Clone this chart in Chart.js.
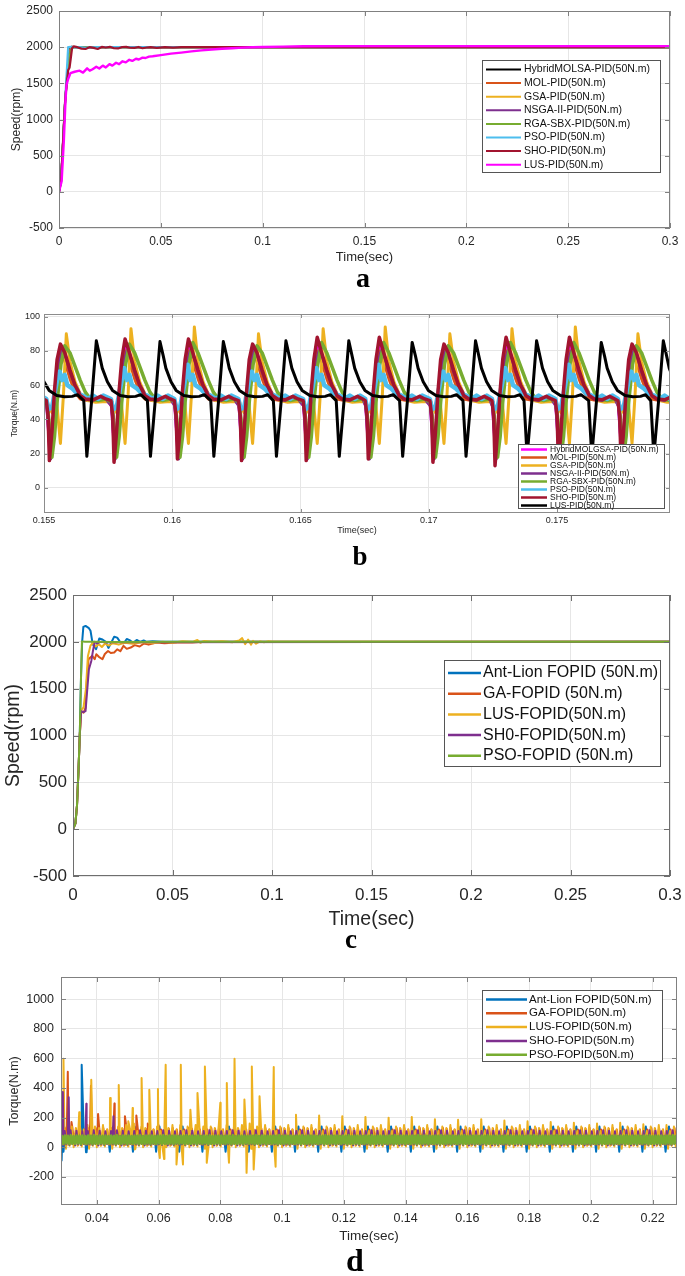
<!DOCTYPE html>
<html><head><meta charset="utf-8">
<script src="https://cdn.jsdelivr.net/npm/chart.js@4.4.0/dist/chart.umd.min.js"></script>
<style>
html,body{margin:0;padding:0;background:#fff;}
body{width:685px;height:1276px;position:relative;overflow:hidden;}
canvas{position:absolute;left:0;}
.lbl{position:absolute;font-family:"Liberation Serif","Times New Roman",serif;font-weight:bold;line-height:1;transform:translateX(-50%);color:#000;}
</style></head><body>
<canvas id="cA" width="685" height="268" style="top:0px"></canvas>
<canvas id="cB" width="685" height="240" style="top:300px"></canvas>
<canvas id="cC" width="685" height="355" style="top:580px"></canvas>
<canvas id="cD" width="685" height="290" style="top:960px"></canvas>
<div class="lbl" style="left:363px;top:264px;font-size:28px">a</div>
<div class="lbl" style="left:360px;top:543px;font-size:27px">b</div>
<div class="lbl" style="left:351px;top:926px;font-size:27px">c</div>
<div class="lbl" style="left:355px;top:1244px;font-size:32px">d</div>
<script>
// ---------------- Panel a : Speed (PID) ----------------
const aTicksX = [0, 0.05, 0.1, 0.15, 0.2, 0.25, 0.3];
const aLabelsX = ['0', '0.05', '0.1', '0.15', '0.2', '0.25', '0.3'];
const aTicksY = [-500, 0, 500, 1000, 1500, 2000, 2500];
const aLabelsY = ['-500', '0', '500', '1000', '1500', '2000', '2500'];
const aNames = ['HybridMOLSA-PID(50N.m)', 'MOL-PID(50N.m)', 'GSA-PID(50N.m)', 'NSGA-II-PID(50N.m)', 'RGA-SBX-PID(50N.m)', 'PSO-PID(50N.m)', 'SHO-PID(50N.m)', 'LUS-PID(50N.m)'];
const aHybridT = [0, 0.001, 0.002, 0.003, 0.0038, 0.0046, 0.0054, 0.0062, 0.008, 0.012, 0.3];
const aHybridV = [0, 150, 700, 1250, 1550, 1850, 2000, 2005, 2000, 1998, 2000];
const aMolT = [0, 0.001, 0.002, 0.003, 0.0038, 0.0046, 0.0056, 0.0066, 0.009, 0.3];
const aMolV = [0, 150, 700, 1250, 1530, 1800, 1980, 2005, 2000, 2000];
const aGsaV = [0, 150, 700, 1250, 1520, 1780, 1960, 2000, 2000, 2000];
const aNsgaV = [0, 150, 700, 1250, 1510, 1760, 1950, 2000, 2000, 2000];
const aRgaV = [0, 150, 700, 1250, 1500, 1740, 1940, 1995, 2000, 2000];
const aPsoT = [0, 0.001, 0.002, 0.003, 0.0035, 0.0045, 0.006, 0.008, 0.010, 0.013, 0.016, 0.02, 0.3];
const aPsoV = [0, 150, 700, 1250, 1500, 2000, 2005, 1995, 2000, 1990, 1998, 2000, 2000];
const aShoT = [0, 0.001, 0.002, 0.003, 0.0037, 0.0045, 0.0052, 0.0058, 0.0064, 0.0072, 0.009, 0.011, 0.013, 0.015, 0.017, 0.019, 0.021, 0.023, 0.025, 0.027, 0.029, 0.031, 0.033, 0.035, 0.037, 0.039, 0.041, 0.043, 0.045, 0.048, 0.052, 0.056, 0.06, 0.07, 0.3];
const aShoV = [0, 150, 700, 1250, 1480, 1680, 1720, 1850, 1985, 2010, 2000, 1980, 1975, 2000, 1990, 1975, 2003, 1995, 2005, 1985, 1982, 2002, 2005, 1992, 1990, 2003, 1985, 1995, 2000, 1990, 2000, 1993, 2000, 2000, 2000];
const aLusT = [0, 0.0013, 0.0024, 0.0032, 0.0037, 0.0045, 0.0056, 0.0077, 0.0101, 0.0118, 0.0138, 0.0151, 0.0165, 0.0183, 0.0198, 0.0215, 0.023, 0.0248, 0.0262, 0.028, 0.0295, 0.0312, 0.0328, 0.0345, 0.036, 0.0378, 0.0392, 0.041, 0.0425, 0.0442, 0.046, 0.05, 0.055, 0.06, 0.065, 0.07, 0.075, 0.08, 0.085, 0.09, 0.095, 0.1, 0.11, 0.12, 0.14, 0.3];
const aLusV = [0, 147, 720, 1270, 1478, 1560, 1640, 1660, 1675, 1648, 1707, 1675, 1695, 1730, 1705, 1745, 1720, 1765, 1745, 1785, 1765, 1805, 1790, 1825, 1810, 1840, 1830, 1855, 1850, 1870, 1875, 1890, 1910, 1925, 1942, 1956, 1968, 1978, 1986, 1993, 1998, 2003, 2008, 2012, 2015, 2015];

// ---------------- Panel b : Torque (PID) ----------------
const bTicksX = [0.155, 0.16, 0.165, 0.17, 0.175];
const bLabelsX = ['0.155', '0.16', '0.165', '0.17', '0.175'];
const bTicksY = [0, 20, 40, 60, 80, 100];
const bLabelsY = ['0', '20', '40', '60', '80', '100'];
const bNames = ['HybridMOLGSA-PID(50N.m)', 'MOL-PID(50N.m)', 'GSA-PID(50N.m)', 'NSGA-II-PID(50N.m)', 'RGA-SBX-PID(50N.m)', 'PSO-PID(50N.m)', 'SHO-PID(50N.m)', 'LUS-PID(50N.m)'];
// cycle trough times
const bCycleTimes = [0.15276, 0.15521, 0.15773, 0.16020, 0.16270, 0.16522, 0.16764, 0.17016, 0.17258, 0.17505, 0.17749, 0.17995];
const bShoPeaks = [84, 84, 87, 87, 84, 88, 88, 84, 88, 88, 84, 84];
const bShoLows = [16, 16, 15, 17, 16, 16, 17, 15, 13, 15, 16, 16];
const bGsaPeaks = [90, 90, 93, 94, 90, 93, 94, 90, 93, 94, 90, 90];
const bRgaPeaks = [83, 83, 84, 85, 83, 85, 85, 83, 85, 85, 83, 83];
const bPsoPeaks = [68, 68, 70, 72, 68, 70, 72, 68, 70, 72, 68, 68];
const bLusCycleTimes = [0.15420, 0.15667, 0.15915, 0.16162, 0.16406, 0.16651, 0.16898, 0.17145, 0.17383, 0.17635, 0.17877];
const bLusPeaks = [86, 86, 85.5, 85.5, 86, 86, 85, 86, 86, 85, 86];
// one-cycle shapes (offset from cycle time, torque)
const bHybridDt = [-0.0001, 0.00003, 0.00013, 0.00023, 0.00033, 0.00047, 0.00062, 0.0008, 0.001, 0.0012, 0.0014, 0.0017, 0.002, 0.0022];
const bHybridV = [48, 18, 35, 58, 74, 83, 78, 68, 59, 54, 52, 51.5, 53, 52];
const bMolDt = [-0.00012, -0.00005, 0.00008, 0.00018, 0.00028, 0.00045, 0.0006, 0.0008, 0.001, 0.0012, 0.0015, 0.0018, 0.0022];
const bMolV = [50, 44, 20, 40, 65, 80, 74, 64, 56, 52, 51, 52, 51];
const bGsaDt = [-0.0001, 0.0001, 0.00025, 0.00043, 0.00055, 0.00066, 0.0008, 0.001, 0.0012, 0.0015, 0.0018, 0.0022];
const bGsaV = [50, 44, 56, 26, 55, 'P', 74, 62, 55, 51, 50, 50.5];
const bNsgaDt = [-0.0001, 0.00005, 0.00015, 0.00025, 0.00035, 0.0005, 0.00065, 0.0008, 0.001, 0.0012, 0.0014, 0.0017, 0.002, 0.0022];
const bNsgaV = [48, 17, 32, 55, 72, 80, 76, 68, 60, 55, 52, 51, 53, 52];
const bRgaDt = [-0.00008, 0.0001, 0.0002, 0.0003, 0.00045, 0.0006, 0.0008, 0.001, 0.0012, 0.0014, 0.0016, 0.0019, 0.0022];
const bRgaV = [50, 18, 30, 50, 72, 'P', 79, 71, 63, 56, 52, 51, 52];
const bPsoDt = [-0.00012, -0.00004, 0.0001, 0.0002, 0.0003, 0.0004, 0.0005, 0.0006, 0.0007, 0.0009, 0.0011, 0.0013, 0.0015, 0.0017, 0.0019, 0.0021];
const bPsoV = [52, 46, 47, 55, 63, 'P', 63, 66, 60, 58, 55, 54, 52, 54, 52, 54];
const bShoDt = [-0.00012, -0.00005, 0, 0.0001, 0.0002, 0.0003, 0.00043, 0.0006, 0.0008, 0.001, 0.0012, 0.0014, 0.0017, 0.002, 0.0022];
const bShoV = [51, 42, 'L', 33, 57, 75, 'P', 79, 69, 60, 54, 52, 51.5, 53.5, 52];
const bLusDt = [-0.00012, 0, 0.00018, 0.00037, 0.0005, 0.0006, 0.0008, 0.001, 0.0013, 0.0016, 0.0019, 0.0021];
const bLusV = [51, 18.5, 50, 'P', 77, 70, 62, 57, 54, 53.3, 53.5, 54.5];

// ---------------- Panel c : Speed (FOPID) ----------------
const cTicksX = [0, 0.05, 0.1, 0.15, 0.2, 0.25, 0.3];
const cLabelsX = ['0', '0.05', '0.1', '0.15', '0.2', '0.25', '0.3'];
const cTicksY = [-500, 0, 500, 1000, 1500, 2000, 2500];
const cLabelsY = ['-500', '0', '500', '1000', '1500', '2000', '2500'];
const cNames = ['Ant-Lion FOPID (50N.m)', 'GA-FOPID (50N.m)', 'LUS-FOPID(50N.m)', 'SH0-FOPID(50N.m)', 'PSO-FOPID (50N.m)'];
const cAntT = [0, 0.0012, 0.002, 0.0028, 0.0034, 0.004, 0.0046, 0.0052, 0.0063, 0.008, 0.0088, 0.0099, 0.0116, 0.0132, 0.0148, 0.0165, 0.0178, 0.0192, 0.0207, 0.0222, 0.0238, 0.0255, 0.027, 0.0287, 0.0302, 0.032, 0.0338, 0.0355, 0.037, 0.04, 0.045, 0.3];
const cAntV = [0, 60, 250, 650, 1000, 1600, 2000, 2160, 2170, 2146, 2118, 1975, 1921, 2036, 2025, 2000, 1935, 1990, 2055, 2045, 1995, 1985, 2030, 2015, 1990, 2020, 2000, 2015, 2000, 2005, 2000, 2000];
const cGaT = [0, 0.0012, 0.002, 0.0028, 0.0034, 0.0041, 0.0053, 0.0063, 0.007, 0.0078, 0.0087, 0.0097, 0.0109, 0.0117, 0.013, 0.0148, 0.016, 0.0176, 0.019, 0.0207, 0.0222, 0.0238, 0.0254, 0.027, 0.029, 0.031, 0.0335, 0.0357, 0.038, 0.042, 0.046, 0.05, 0.055, 0.06, 0.065, 0.07, 0.3];
const cGaV = [0, 60, 250, 650, 1000, 1260, 1243, 1296, 1600, 1814, 1832, 1850, 1814, 1868, 1840, 1814, 1870, 1903, 1880, 1886, 1920, 1900, 1957, 1925, 1939, 1965, 1950, 1982, 1970, 1993, 1985, 1990, 1995, 1992, 2000, 2000, 2000];
const cLusT = [0, 0.0012, 0.002, 0.0028, 0.0034, 0.0041, 0.0053, 0.0065, 0.0075, 0.0088, 0.01, 0.0115, 0.013, 0.0145, 0.016, 0.018, 0.02, 0.023, 0.026, 0.03, 0.035, 0.04, 0.045, 0.05, 0.055, 0.06, 0.0625, 0.064, 0.066, 0.07, 0.075, 0.08, 0.0835, 0.085, 0.0865, 0.088, 0.0895, 0.0905, 0.092, 0.094, 0.096, 0.098, 0.1, 0.3];
const cLusV = [0, 60, 250, 650, 1000, 1270, 1300, 1500, 1850, 1960, 1990, 1950, 1975, 1945, 1980, 1960, 1985, 1970, 1990, 1980, 1995, 1985, 2000, 1990, 2005, 2000, 2020, 1990, 2010, 2000, 2005, 1995, 2015, 2040, 1975, 2025, 1970, 2010, 1980, 2005, 1995, 2005, 2000, 2000];
const cShoT = [0, 0.0012, 0.002, 0.0028, 0.0034, 0.0041, 0.0053, 0.0063, 0.0072, 0.008, 0.0092, 0.0100, 0.0109, 0.012, 0.014, 0.016, 0.3];
const cShoV = [0, 60, 250, 650, 1000, 1260, 1250, 1260, 1500, 1707, 1796, 1900, 2000, 1985, 2000, 1995, 2000];
const cPsoT = [0, 0.0012, 0.002, 0.0028, 0.0034, 0.004, 0.0045, 0.006, 0.01, 0.02, 0.05, 0.1, 0.3];
const cPsoV = [0, 60, 250, 650, 1000, 1600, 2005, 2000, 2002, 1998, 2000, 2000, 2000];

// ---------------- Panel d : Torque (FOPID) ----------------
const dTicksX = [0.04, 0.06, 0.08, 0.1, 0.12, 0.14, 0.16, 0.18, 0.2, 0.22];
const dLabelsX = ['0.04', '0.06', '0.08', '0.1', '0.12', '0.14', '0.16', '0.18', '0.2', '0.22'];
const dTicksY = [-200, 0, 200, 400, 600, 800, 1000];
const dLabelsY = ['-200', '0', '200', '400', '600', '800', '1000'];
const dNames = ['Ant-Lion FOPID(50N.m)', 'GA-FOPID(50N.m)', 'LUS-FOPID(50N.m)', 'SHO-FOPID(50N.m)', 'PSO-FOPID(50N.m)'];
const dCycleTimes = [0.0217, 0.0292, 0.0367, 0.0442, 0.0517, 0.0592, 0.0667, 0.0742, 0.0817, 0.0892, 0.0967, 0.1042, 0.1117, 0.1192, 0.1267, 0.1342, 0.1417, 0.1492, 0.1567, 0.1642, 0.1717, 0.1792, 0.1867, 0.1942, 0.2017, 0.2092, 0.2167, 0.2242];
const dAntDt = [0, 0.0005, 0.0011, 0.0017, 0.0024, 0.0031, 0.0038, 0.0045, 0.0052, 0.0059, 0.0066, 0.0071];
const dAntV = [-30, 70, 140, 40, 95, 35, 90, 40, 95, 35, 85, 50];
const dAntEvT = [0.0286, 0.0351, 0.0365];
const dAntEvV = [-90, 557, -34];
const dGaDt = [0, 0.0004, 0.001, 0.0016, 0.0022, 0.0029, 0.0035, 0.0041, 0.0048, 0.0054, 0.006, 0.0067, 0.0072];
const dGaV = [40, 130, 15, 120, 25, 130, 20, 125, 15, 130, 25, 120, 30];
const dGaEvT = [0.0306, 0.0318, 0.0381, 0.0404, 0.0457, 0.0491, 0.0528, 0.0565, 0.0600];
const dGaEvV = [510, 170, 415, 225, 295, 210, 215, 160, 150];
const dLusDt = [0, 0.0003, 0.0008, 0.0014, 0.002, 0.0027, 0.0033, 0.004, 0.0046, 0.0053, 0.0059, 0.0066, 0.0071];
const dLusV = [30, 'P', -10, 110, 10, 140, 0, 130, 10, 150, 5, 120, 20];
const dLusPeaks = [150, 140, 150, 130, 160, 140, 150, 140, 150, 160, 150, 220, 215, 210, 205, 200, 205, 190, 185, 190, 180, 175, 170, 165, 160, 165, 155, 150];
const dLusEvT = [0.0292, 0.0343, 0.0382, 0.0443, 0.0471, 0.0502, 0.0516, 0.0523, 0.0545, 0.0570, 0.0598, 0.0604, 0.0618, 0.0623, 0.0658, 0.0672, 0.0679, 0.0703, 0.0726, 0.0750, 0.0756, 0.0800, 0.0821, 0.0828, 0.0846, 0.0878, 0.0885, 0.0902, 0.0908, 0.0927, 0.0973, 0.0979];
const dLusEvV = [598, 236, 456, 333, 420, 175, 265, -15, 468, 389, 394, -72, -80, 558, -116, 558, -116, 254, 367, 546, -105, 300, 434, -105, 598, 322, -173, 546, -150, 344, 542, -132];
const dShoDt = [0, 0.0004, 0.0009, 0.0014, 0.0019, 0.0023, 0.0028, 0.0033, 0.0038, 0.0042, 0.0047, 0.0052, 0.0057, 0.0061, 0.0066, 0.0071];
const dShoV = [15, 110, 20, 60, 15, 115, 25, 55, 12, 112, 20, 60, 15, 108, 22, 50];
const dShoEvT = [0.0290, 0.0309, 0.0366, 0.0454];
const dShoEvV = [373, 337, 294, 209];
const dPsoDt = [0, 0.00047, 0.00094, 0.00141, 0.00188, 0.00235, 0.00282, 0.00329, 0.00376, 0.00423, 0.0047, 0.00517, 0.00564, 0.00611, 0.00658, 0.00705];
const dPsoV = [22, 80, 25, 78, 20, 82, 24, 76, 22, 80, 26, 78, 20, 80, 25, 76];

// ---------------- helpers ----------------
const FONT = '"Liberation Sans", Arial, Helvetica, sans-serif';
const COL = {blue: '#0072BD', orange: '#D95319', yellow: '#EDB120', purple: '#7E2F8E', green: '#77AC30', cyan: '#4DBEEE', dred: '#A2142F', magenta: '#FF00FF', black: '#000000'};

function pairs(ts, vs) { return ts.map((t, i) => ({x: t, y: vs[i]})); }
function tile(times, dts, vals, peaks, lows) {
  const out = [];
  times.forEach((s, k) => dts.forEach((d, j) => {
    let v = vals[j];
    if (v === 'P') v = peaks[k];
    else if (v === 'L') v = lows[k];
    out.push({x: s + d, y: v});
  }));
  return out;
}
function withEvents(base, evT, evV) { return base.concat(pairs(evT, evV)).sort((p, q) => p.x - q.x); }
function ds(label, color, data, width) {
  return {label, data, borderColor: color, backgroundColor: color, borderWidth: width, pointRadius: 0, pointHoverRadius: 0, tension: 0, fill: false, clip: 0, borderJoinStyle: 'round', borderCapStyle: 'round'};
}

const framePlugin = {
  id: 'frame',
  afterDatasetsDraw(chart, args, opts) {
    const ctx = chart.ctx;
    const {left, top, right, bottom} = chart.chartArea;
    const xs = chart.scales.x, ys = chart.scales.y;
    const L = opts.tickLen;
    ctx.save();
    ctx.strokeStyle = opts.color || '#808080';
    ctx.lineWidth = 1;
    ctx.beginPath();
    xs.ticks.forEach(t => {
      const px = Math.round(xs.getPixelForValue(t.value)) + 0.5;
      ctx.moveTo(px, bottom); ctx.lineTo(px, bottom - L);
      ctx.moveTo(px, top); ctx.lineTo(px, top + L);
    });
    ys.ticks.forEach(t => {
      const py = Math.round(ys.getPixelForValue(t.value)) + 0.5;
      ctx.moveTo(left, py); ctx.lineTo(left + L, py);
      ctx.moveTo(right, py); ctx.lineTo(right - L, py);
    });
    ctx.stroke();
    ctx.strokeRect(Math.round(left) + 0.5, Math.round(top) + 0.5, Math.round(right - left) - 1, Math.round(bottom - top) - 1);
    const lg = opts.legend;
    if (lg) {
      ctx.fillStyle = '#ffffff';
      ctx.fillRect(lg.x, lg.y, lg.w, lg.h);
      ctx.strokeStyle = '#555555';
      ctx.strokeRect(lg.x + 0.5, lg.y + 0.5, lg.w, lg.h);
      ctx.font = lg.font + 'px ' + FONT;
      ctx.textBaseline = 'middle';
      ctx.textAlign = 'left';
      chart.data.datasets.forEach((d, i) => {
        const y = lg.y + lg.first + i * lg.dy;
        ctx.strokeStyle = d.borderColor;
        ctx.lineWidth = lg.lw;
        ctx.beginPath();
        ctx.moveTo(lg.x + lg.l0, y); ctx.lineTo(lg.x + lg.l1, y);
        ctx.stroke();
        ctx.fillStyle = '#111111';
        ctx.fillText(d.label, lg.x + lg.tx, y);
      });
    }
    ctx.restore();
  }
};

function makeChart(id, g, datasets, tx, lx, ty, ly, xTitle, yTitle) {
  datasets.forEach((d, i) => { d.order = datasets.length - i; });
  return new Chart(document.getElementById(id), {
    type: 'line',
    data: {datasets},
    options: {
      responsive: false, animation: false, events: [],
      layout: {padding: {top: g.padTop, right: g.padRight, left: 0, bottom: 0}},
      plugins: {legend: {display: false}, tooltip: {enabled: false}, frame: {tickLen: g.tickLen, legend: g.legend, color: g.frame}},
      scales: {
        x: {
          type: 'linear', min: g.xMin, max: g.xMax,
          afterBuildTicks: s => { s.ticks = tx.map(v => ({value: v})); },
          afterFit: s => { s.height = g.xH; },
          ticks: {autoSkip: false, maxRotation: 0, minRotation: 0, padding: 0, color: '#262626', font: {family: FONT, size: g.tickFont}, callback: (v, i) => lx[i]},
          grid: {color: '#e6e6e6', drawTicks: true, tickLength: g.xTl, tickColor: 'rgba(0,0,0,0)', lineWidth: 1},
          border: {display: false},
          title: {display: true, text: xTitle, color: '#262626', font: {family: FONT, size: g.xTitleFont}, padding: {top: 0, bottom: g.xTitlePb}}
        },
        y: {
          type: 'linear', min: g.yMin, max: g.yMax,
          afterBuildTicks: s => { s.ticks = ty.map(v => ({value: v})); },
          afterFit: s => { s.width = g.yW; },
          ticks: {autoSkip: false, padding: 0, color: '#262626', font: {family: FONT, size: g.tickFont}, callback: (v, i) => ly[i]},
          grid: {color: '#e6e6e6', drawTicks: true, tickLength: g.yTl, tickColor: 'rgba(0,0,0,0)', lineWidth: 1},
          border: {display: false},
          title: {display: true, text: yTitle, color: '#262626', font: {family: FONT, size: g.yTitleFont}, padding: {top: g.yTitlePt, bottom: 0}}
        }
      }
    },
    plugins: [framePlugin]
  });
}

// ---------------- Panel a ----------------
makeChart('cA', {
  padTop: 11, padRight: 15, yW: 59, xH: 40, xMin: 0, xMax: 0.3, yMin: -500, yMax: 2500,
  tickFont: 12, xTl: 6, yTl: 6, xTitleFont: 13, xTitlePb: 3.2, yTitleFont: 12, yTitlePt: 9.5, tickLen: 5, frame: '#808080',
  legend: {x: 482, y: 60, w: 178, h: 112, first: 9.5, dy: 13.6, l0: 4, l1: 39, tx: 42, font: 10.5, lw: 2}
}, [
  ds(aNames[0], COL.black, pairs(aHybridT, aHybridV), 2),
  ds(aNames[1], COL.orange, pairs(aMolT, aMolV), 2),
  ds(aNames[2], COL.yellow, pairs(aMolT, aGsaV), 2),
  ds(aNames[3], COL.purple, pairs(aMolT, aNsgaV), 2),
  ds(aNames[4], COL.green, pairs(aMolT, aRgaV), 2),
  ds(aNames[5], COL.cyan, pairs(aPsoT, aPsoV), 2.2),
  ds(aNames[6], COL.dred, pairs(aShoT, aShoV), 2.2),
  ds(aNames[7], COL.magenta, pairs(aLusT, aLusV), 2.4)
], aTicksX, aLabelsX, aTicksY, aLabelsY, 'Time(sec)', 'Speed(rpm)');

// ---------------- Panel b ----------------
makeChart('cB', {
  padTop: 14, padRight: 15, yW: 44, xH: 27, xMin: 0.155, xMax: 0.1794, yMin: -14.6, yMax: 101.6,
  tickFont: 9, xTl: 2.3, yTl: 4, xTitleFont: 9, xTitlePb: 3.9, yTitleFont: 8.5, yTitlePt: 9.9, tickLen: 4, frame: '#8c8c8c',
  legend: {x: 518, y: 144, w: 146, h: 64, first: 5.5, dy: 8.0, l0: 3, l1: 29, tx: 32, font: 8.5, lw: 2.5}
}, [
  ds(bNames[0], COL.magenta, tile(bCycleTimes, bHybridDt, bHybridV), 3),
  ds(bNames[1], COL.orange, tile(bCycleTimes, bMolDt, bMolV), 3),
  ds(bNames[2], COL.yellow, tile(bCycleTimes, bGsaDt, bGsaV, bGsaPeaks), 3),
  ds(bNames[3], COL.purple, tile(bCycleTimes, bNsgaDt, bNsgaV), 3),
  ds(bNames[4], COL.green, tile(bCycleTimes, bRgaDt, bRgaV, bRgaPeaks), 3.5),
  ds(bNames[5], COL.cyan, tile(bCycleTimes, bPsoDt, bPsoV, bPsoPeaks), 4.5),
  ds(bNames[6], COL.dred, tile(bCycleTimes, bShoDt, bShoV, bShoPeaks, bShoLows), 3.5),
  ds(bNames[7], COL.black, tile(bLusCycleTimes, bLusDt, bLusV, bLusPeaks), 3)
], bTicksX, bLabelsX, bTicksY, bLabelsY, 'Time(sec)', 'Torque(N.m)');

// ---------------- Panel c ----------------
makeChart('cC', {
  padTop: 15, padRight: 15, yW: 73, xH: 59, xMin: 0, xMax: 0.3, yMin: -500, yMax: 2500,
  tickFont: 17, xTl: 8.8, yTl: 6, xTitleFont: 19.5, xTitlePb: 3.3, yTitleFont: 19.5, yTitlePt: 2, tickLen: 6, frame: '#6e6e6e',
  legend: {x: 444, y: 80, w: 216, h: 106, first: 13, dy: 20.7, l0: 4, l1: 37, tx: 39, font: 16, lw: 2.5}
}, [
  ds(cNames[0], COL.blue, pairs(cAntT, cAntV), 2),
  ds(cNames[1], COL.orange, pairs(cGaT, cGaV), 2),
  ds(cNames[2], COL.yellow, pairs(cLusT, cLusV), 2),
  ds(cNames[3], COL.purple, pairs(cShoT, cShoV), 2),
  ds(cNames[4], COL.green, pairs(cPsoT, cPsoV), 2)
], cTicksX, cLabelsX, cTicksY, cLabelsY, 'Time(sec)', 'Speed(rpm)');

// ---------------- Panel d ----------------
makeChart('cD', {
  padTop: 17, padRight: 8, yW: 61, xH: 45, xMin: 0.0284, xMax: 0.2279, yMin: -390, yMax: 1150,
  tickFont: 12.5, xTl: 6.5, yTl: 7, xTitleFont: 13.5, xTitlePb: 5.9, yTitleFont: 12.5, yTitlePt: 7.5, tickLen: 5, frame: '#808080',
  legend: {x: 482, y: 30, w: 180, h: 71, first: 9.5, dy: 13.8, l0: 4, l1: 45, tx: 47, font: 11.5, lw: 2.5}
}, [
  ds(dNames[0], COL.blue, withEvents(tile(dCycleTimes, dAntDt, dAntV), dAntEvT, dAntEvV), 2),
  ds(dNames[1], COL.orange, withEvents(tile(dCycleTimes, dGaDt, dGaV), dGaEvT, dGaEvV), 2),
  ds(dNames[2], COL.yellow, withEvents(tile(dCycleTimes, dLusDt, dLusV, dLusPeaks), dLusEvT, dLusEvV), 2),
  ds(dNames[3], COL.purple, withEvents(tile(dCycleTimes, dShoDt, dShoV), dShoEvT, dShoEvV), 2),
  ds(dNames[4], COL.green, tile(dCycleTimes, dPsoDt, dPsoV), 2.5)
], dTicksX, dLabelsX, dTicksY, dLabelsY, 'Time(sec)', 'Torque(N.m)');
</script>
</body></html>
